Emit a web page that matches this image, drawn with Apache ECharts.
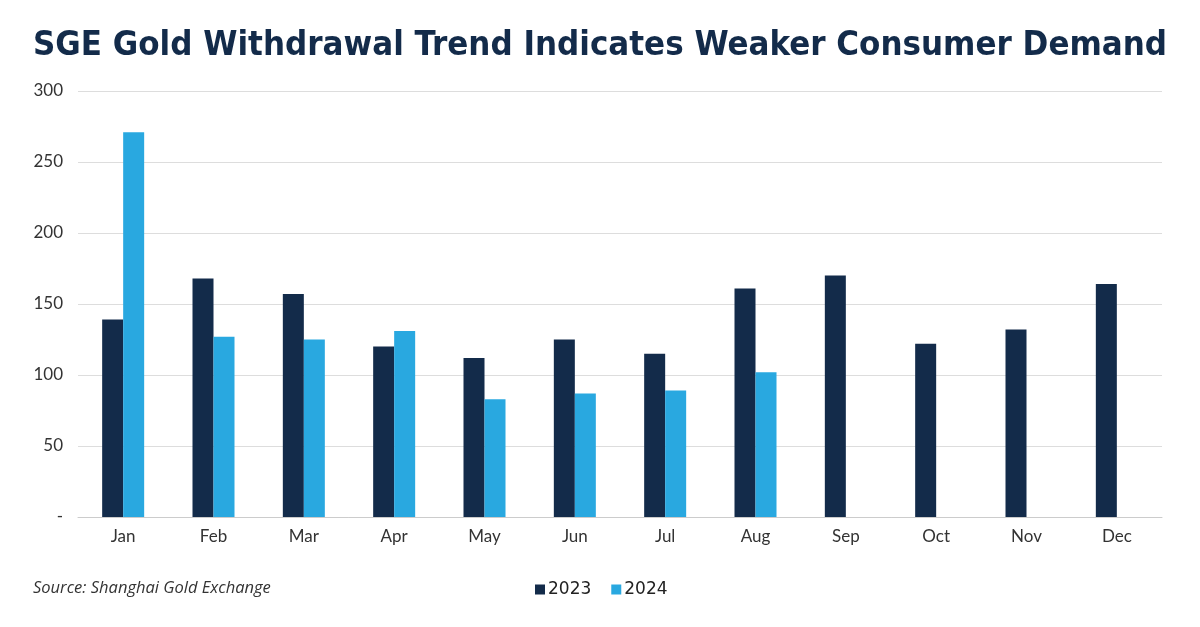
<!DOCTYPE html>
<html><head><meta charset="utf-8">
<script src="https://cdn.jsdelivr.net/npm/echarts@6/dist/echarts.min.js"></script>
<style>html,body{margin:0;padding:0;background:#fff}#c{width:1200px;height:627px}</style>
</head><body><div id="c"></div>
<script>
const months = ['Jan','Feb','Mar','Apr','May','Jun','Jul','Aug','Sep','Oct','Nov','Dec'];
const s2023 = [139,168,157,120,112,125,115,161,170,122,132,164];
const s2024 = [271,127,125,131,83,87,89,102,null,null,null,null];
const yTicks = [0,50,100,150,200,250,300];

const chart = echarts.init(document.getElementById('c'));
chart.setOption({
  animation:false,
  backgroundColor:'#fff',
  title:{text:'SGE Gold Withdrawal Trend Indicates Weaker Consumer Demand',left:'center',top:24,
    textStyle:{fontFamily:'DejaVu Sans Condensed',fontWeight:'bold',fontSize:34.5,color:'#132B4A'}},
  graphic:[{type:'text',left:33,top:580,style:{text:'Source: Shanghai Gold Exchange',font:'italic 16.5px "Open Sans"',fill:'#333'}}],
  legend:{data:['2023','2024'],left:530,top:576,itemWidth:10,itemHeight:10,itemGap:20,icon:'rect',
    textStyle:{fontFamily:'DejaVu Sans',fontSize:17,fontWeight:500,color:'#222',padding:[0,0,0,-2]}},
  grid:{left:78,right:38,top:91,bottom:110},
  xAxis:{type:'category',data:months,axisTick:{show:false},
    axisLine:{lineStyle:{color:'#ccc',width:1}},
    axisLabel:{fontFamily:'Lato',fontSize:17,color:'#333',margin:11}},
  yAxis:{type:'value',min:0,max:300,interval:50,
    axisLabel:{fontFamily:'Lato',fontSize:17,color:'#333',margin:15,
      formatter:v=>v===0?'-':String(v)},
    splitLine:{lineStyle:{color:'#ddd'}}},
  series:[
    {name:'2023',type:'bar',data:s2023,barWidth:21,barGap:'0%',itemStyle:{color:'#132B4A'}},
    {name:'2024',type:'bar',data:s2024,barWidth:21,barGap:'0%',itemStyle:{color:'#29A8E0'}}
  ]
});
</script></body></html>
